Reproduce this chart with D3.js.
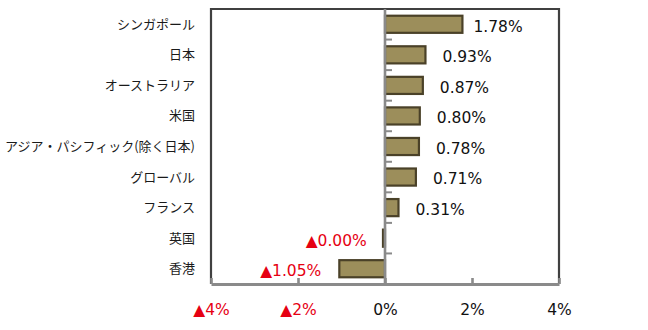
<!DOCTYPE html>
<html><head><meta charset="utf-8">
<script src="https://cdn.jsdelivr.net/npm/d3@7"></script>
<style>body{margin:0;background:#fff}svg{display:block}</style>
</head><body>
<svg id="c" width="648" height="330"></svg>
<script>
const categories = ["シンガポール","日本","オーストラリア","米国","アジア・パシフィック(除く日本)","グローバル","フランス","英国","香港"];
const values = [1.78, 0.93, 0.87, 0.80, 0.78, 0.71, 0.31, -0.004, -1.05];
const tickValues = [-4, -2, 0, 2, 4];

(function () {
const svg = d3.select("#c");
const pL = 211, pR = 559, pT = 9, pB = 284;
const x = d3.scaleLinear().domain([-4, 4]).range([pL, pR]);
const y = d3.scaleBand().domain(categories).range([pT, pB]).paddingInner(0.44).paddingOuter(0.22);
const band = (pB - pT) / categories.length;
const red = "#e60012";
const fmt = v => (v < 0 ? "▲" : "") + Math.abs(v).toFixed(2) + "%";
const tfmt = v => (v < 0 ? "▲" : "") + Math.abs(v) + "%";
const minW = 2;
const bw = d => Math.max(Math.abs(x(d) - x(0)), minW);

// frame
svg.append("path").attr("d", `M${pL},${pB} V${pT} H${pR} V${pB}`)
  .attr("fill", "none").attr("stroke", "#404040").attr("stroke-width", 2.2);

// bars
svg.selectAll("rect.bar").data(values).join("rect").attr("class","bar")
  .attr("x", d => d < 0 ? x(0) - bw(d) : x(0))
  .attr("width", bw)
  .attr("y", (d, i) => y(categories[i]))
  .attr("height", y.bandwidth())
  .attr("fill", "#9c8e5b").attr("stroke", "#4a4128").attr("stroke-width", 2.2);

// zero line
svg.append("line").attr("x1", x(0)).attr("x2", x(0)).attr("y1", pT).attr("y2", pB)
  .attr("stroke", "#8a8a8a").attr("stroke-width", 2.6);
// category ticks on zero line
const yb = d3.range(1, categories.length + 1).map(i => pT + i * band);
svg.selectAll("line.ct").data(yb).join("line").attr("class","ct")
  .attr("x1", x(0)).attr("x2", x(0) + 7).attr("y1", d => d).attr("y2", d => d)
  .attr("stroke", "#8a8a8a").attr("stroke-width", 2);

// bottom axis
const ax = d3.axisBottom(x).tickValues(tickValues).tickSize(0).tickFormat(tfmt);
const g = svg.append("g").attr("transform", `translate(0,${pB})`).call(ax);
g.select(".domain").attr("stroke", "#8a8a8a").attr("stroke-width", 3);
g.selectAll(".tick line").remove();
g.selectAll(".tick").append("line").attr("y1", 0).attr("y2", -6).attr("stroke", "#8a8a8a").attr("stroke-width", 2.6);
g.selectAll(".tick text").attr("dy", 0).attr("y", 31)
  .attr("font-family", "DejaVu Sans, Verdana, sans-serif").attr("font-size", 15.5)
  .attr("fill", d => d < 0 ? red : "#111");

// category labels
svg.selectAll("text.cat").data(categories).join("text").attr("class","cat")
  .attr("x", 195).attr("y", d => y(d) + y.bandwidth() / 2).attr("dy", "0.35em")
  .attr("text-anchor", "end").attr("font-family", "Noto Sans CJK JP, sans-serif")
  .attr("font-size", 13).attr("fill", "#1a1a1a").text(d => d);

// value labels
const gap = (d, i) => d < 0 ? -18 : (i === 0 ? 11 : 17);
svg.selectAll("text.val").data(values).join("text").attr("class","val")
  .attr("x", d => x(d)).attr("dx", (d, i) => gap(d, i))
  .attr("y", (d, i) => y(categories[i]) + y.bandwidth() / 2 + 2).attr("dy", "0.35em")
  .attr("text-anchor", d => d < 0 ? "end" : "start")
  .attr("font-family", "DejaVu Sans, Verdana, sans-serif").attr("font-size", 15.5)
  .attr("fill", d => d < 0 ? red : "#111").text(fmt);
})();
</script>
</body></html>
